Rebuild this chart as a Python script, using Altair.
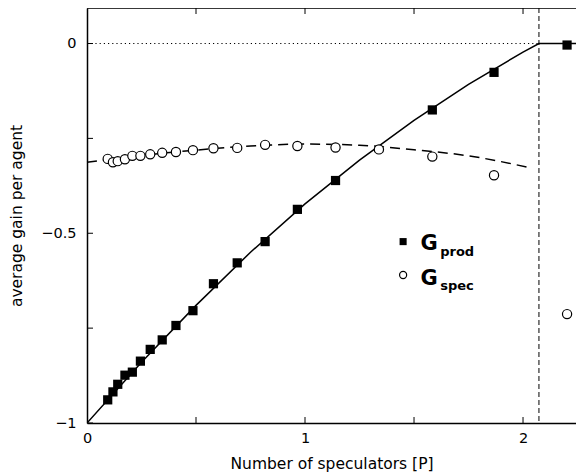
import altair as alt
import pandas as pd

# ---- data ----
prod_x = [0.095, 0.119, 0.141, 0.174, 0.208, 0.245, 0.290, 0.345, 0.408, 0.486,
          0.580, 0.689, 0.817, 0.965, 1.140, 1.584, 1.867, 2.202]
prod_y = [-0.939, -0.918, -0.898, -0.874, -0.866, -0.837, -0.806, -0.781, -0.743, -0.704,
          -0.633, -0.578, -0.522, -0.437, -0.361, -0.175, -0.076, -0.004]

spec_x = [0.095, 0.119, 0.141, 0.174, 0.208, 0.245, 0.290, 0.345, 0.408, 0.486,
          0.580, 0.689, 0.817, 0.965, 1.140, 1.339, 1.584, 1.867, 2.202]
spec_y = [-0.304, -0.313, -0.310, -0.305, -0.296, -0.296, -0.292, -0.288, -0.286, -0.281,
          -0.276, -0.275, -0.267, -0.270, -0.274, -0.279, -0.298, -0.347, -0.713]

prod_theory_x = [0, 0.25, 0.5, 0.75, 1.0, 1.25, 1.5, 1.75, 2.0, 2.073, 2.3]
prod_theory_y = [-1, -0.84, -0.69, -0.55, -0.4225, -0.3075, -0.2025, -0.1075, -0.0225, 0, 0]

spec_theory_x = [0, 0.25, 0.5, 0.75, 1.0, 1.25, 1.5, 1.75, 2.03]
spec_theory_y = [-0.313, -0.295, -0.281, -0.270, -0.265, -0.268, -0.280, -0.296, -0.327]

critical_x = [2.073]
y_tick_values = [-1, -0.75, -0.5, -0.25, 0]
x_tick_values = [0.5, 1, 1.5, 2]
x_label_values = [0, 1, 2]
y_label_values = [-1, -0.5, 0]

# ---- layout ----
W, H = 489, 415
XMAX, YMIN, YMAX = 2.243, -1.0, 0.0936
FONT = "DejaVu Sans"

xs = alt.Scale(domain=[0, XMAX], nice=False, zero=False)
ys = alt.Scale(domain=[YMIN, YMAX], nice=False, zero=False)

XA = alt.Axis(values=x_label_values, format="~g", tickSize=0, grid=False,
              domainColor="black", domainWidth=1.5, labelPadding=8, labelFlush=False,
              labelFont=FONT, labelFontSize=14.5, labelColor="black",
              title="Number of speculators [P]", titleFont=FONT,
              titleFontSize=15.5, titleFontWeight="normal", titleColor="black",
              titlePadding=12)
YA = alt.Axis(values=y_label_values, format="~g", tickSize=0, grid=False,
              domainColor="black", domainWidth=1.5, labelPadding=11, labelFlush=False,
              labelFont=FONT, labelFontSize=14.5, labelColor="black",
              title="average gain per agent", titleFont=FONT,
              titleFontSize=15.5, titleFontWeight="normal", titleColor="black",
              titlePadding=16)


def X(f="x"):
    return alt.X(f"{f}:Q", scale=xs, axis=XA)


def Y(f="y"):
    return alt.Y(f"{f}:Q", scale=ys, axis=YA)


prod_df = pd.DataFrame({"x": prod_x, "y": prod_y})
spec_df = pd.DataFrame({"x": spec_x, "y": spec_y})
pt_df = pd.DataFrame({"x": prod_theory_x, "y": prod_theory_y})
st_df = pd.DataFrame({"x": spec_theory_x, "y": spec_theory_y})

squares = alt.Chart(prod_df).mark_point(shape="square", filled=True, color="black",
                                        size=85, opacity=1).encode(x=X(), y=Y())

circles = alt.Chart(spec_df).mark_point(shape="circle", filled=False, color="black",
                                        fill="white", fillOpacity=1, size=85,
                                        strokeWidth=1.2, opacity=1).encode(x=X(), y=Y())

prod_line = alt.Chart(pt_df).mark_line(color="black", strokeWidth=1.5, clip=True).encode(
    x=X(), y=Y())
spec_line = alt.Chart(st_df).mark_line(color="black", strokeWidth=1.5, strokeDash=[10, 6],
                                       interpolate="monotone").encode(x=X(), y=Y())

vline = alt.Chart(pd.DataFrame({"x": critical_x})).mark_rule(
    color="black", strokeWidth=1, strokeDash=[5, 3]).encode(x=X())

zero_df = pd.DataFrame({"x": [0], "x2": critical_x, "y": [0]})
hline = alt.Chart(zero_df).mark_rule(color="black", strokeWidth=1, strokeDash=[1.2, 3]).encode(
    x=X(), x2="x2:Q", y=Y())

ytk = alt.Chart(pd.DataFrame({"y": y_tick_values})).mark_rule(color="black", strokeWidth=1).encode(
    y=Y(), x=alt.value(0), x2=alt.value(6))
xtk_b = alt.Chart(pd.DataFrame({"x": x_tick_values})).mark_rule(color="black", strokeWidth=1).encode(
    x=X(), y=alt.value(H), y2=alt.value(H - 6))
xtk_t = alt.Chart(pd.DataFrame({"x": x_tick_values})).mark_rule(color="black", strokeWidth=1).encode(
    x=X(), y=alt.value(0), y2=alt.value(6))
top_border = alt.Chart(pd.DataFrame({"a": [0]})).mark_rule(color="black", strokeWidth=1.5).encode(
    x=alt.value(0), x2=alt.value(W), y=alt.value(0))

# legend
leg_sq = alt.Chart(pd.DataFrame({"x": [1.450], "y": [-0.522]})).mark_point(
    shape="square", filled=True, color="black", size=50, opacity=1).encode(x=X(), y=Y())
leg_ci = alt.Chart(pd.DataFrame({"x": [1.450], "y": [-0.610]})).mark_point(
    shape="circle", filled=False, color="black", size=50, strokeWidth=1.2, opacity=1).encode(x=X(), y=Y())
leg_G = alt.Chart(pd.DataFrame({"x": [1.530, 1.530], "y": [-0.544, -0.636], "t": ["G", "G"]})).mark_text(
    align="left", baseline="alphabetic", font=FONT, fontWeight="bold", fontSize=21, color="black").encode(
    x=X(), y=Y(), text="t:N")
leg_sub = alt.Chart(pd.DataFrame({"x": [1.620, 1.620], "y": [-0.561, -0.649], "t": ["prod", "spec"]})).mark_text(
    align="left", baseline="alphabetic", font=FONT, fontWeight="bold", fontSize=13, color="black").encode(
    x=X(), y=Y(), text="t:N")

chart = alt.layer(
    squares, hline, vline, prod_line, spec_line, circles, ytk, xtk_b, xtk_t, top_border,
    leg_sq, leg_ci, leg_G, leg_sub
).properties(
    width=W, height=H,
    padding={"left": 79, "top": 0, "right": 0, "bottom": 50},
    autosize=alt.AutoSizeParams(type="none"),
).configure_view(stroke=None).configure(background="white")

chart.save("out.html", embed_options={"renderer": "svg", "actions": False})
